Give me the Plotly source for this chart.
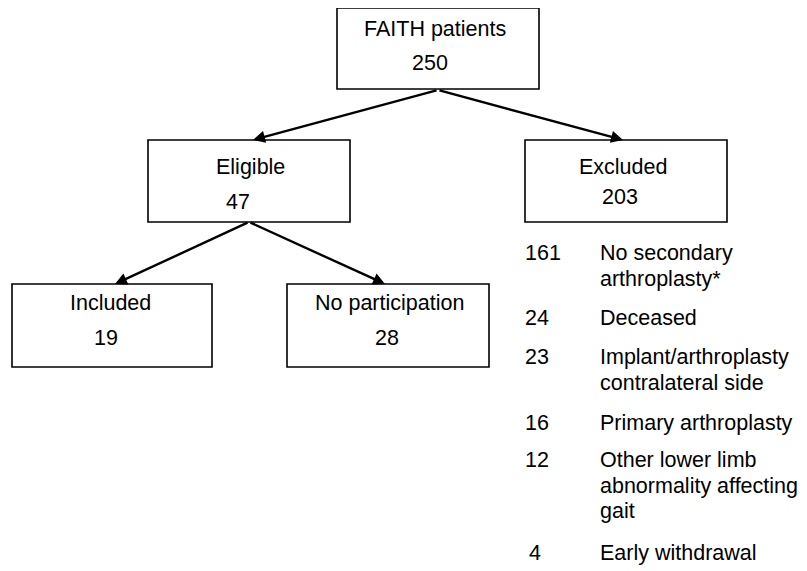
import plotly.graph_objects as go

# ---- data ----
box_labels = ["FAITH patients", "Eligible", "Excluded", "Included", "No participation"]
box_counts = [250, 47, 203, 19, 28]
edges = [(0, 1), (0, 2), (1, 3), (1, 4)]

excl_counts = [161, 24, 23, 16, 12, 4]
excl_reasons = [
    "No secondary|arthroplasty*",
    "Deceased",
    "Implant/arthroplasty|contralateral side",
    "Primary arthroplasty",
    "Other lower limb|abnormality affecting|gait",
    "Early withdrawal",
]

# ---- layout (pixel geometry, window coordinates) ----
W, H = 807, 571
PAD = 8  # page body margin
boxes = [  # x0, x1, y0, y1
    (337, 539, 8, 89),
    (148, 350, 140, 222),
    (525, 727, 140, 222),
    (12, 212, 284, 367),
    (287, 489, 284, 367),
]
label_pos = [(435, 29), (250, 167), (623, 167), (110, 303), (389, 303)]
count_pos = [(430, 63), (238, 202), (620, 197), (106, 338), (387, 338)]
arrow_start = {0: (438, 90), 1: (249, 222)}
arrow_end = {1: (253, 140), 2: (623, 140), 3: (115, 284), 4: (385, 284)}
excl_y0 = [253, 318, 357, 423, 460, 553]
line_gap = 25.5
FONT = dict(family="Liberation Sans, Arial, sans-serif", size=21.5, color="#000000")

fig = go.Figure()
fig.add_trace(go.Scatter(x=[PAD, W], y=[PAD, H], mode="markers",
                         marker=dict(opacity=0), hoverinfo="skip", showlegend=False))

shapes = []
annotations = []
for (x0, x1, y0, y1) in boxes:
    shapes.append(dict(type="rect", xref="x", yref="y", x0=x0, x1=x1, y0=y0, y1=y1,
                       line=dict(color="#000000", width=1.6), fillcolor="rgba(0,0,0,0)"))

for i, (lab, cnt) in enumerate(zip(box_labels, box_counts)):
    annotations.append(dict(x=label_pos[i][0], y=label_pos[i][1], xref="x", yref="y",
                            text=lab, showarrow=False, font=FONT,
                            xanchor="center", yanchor="middle"))
    annotations.append(dict(x=count_pos[i][0], y=count_pos[i][1], xref="x", yref="y",
                            text=str(cnt), showarrow=False, font=FONT,
                            xanchor="center", yanchor="middle"))

for (a, b) in edges:
    sx, sy = arrow_start[a]
    ex, ey = arrow_end[b]
    annotations.append(dict(x=ex, y=ey, ax=sx, ay=sy, xref="x", yref="y",
                            axref="x", ayref="y", text="", showarrow=True,
                            arrowhead=2, arrowsize=1.0, arrowwidth=2.4,
                            arrowcolor="#000000"))

for cnt, reason, y0 in zip(excl_counts, excl_reasons, excl_y0):
    nx = 523 + (4 if cnt < 10 else 0)
    annotations.append(dict(x=nx, y=y0, xref="x", yref="y", text=str(cnt),
                            showarrow=False, font=FONT, xanchor="left", yanchor="middle"))
    for k, line in enumerate(reason.split("|")):
        annotations.append(dict(x=598, y=y0 + k * line_gap, xref="x", yref="y",
                                text=line, showarrow=False, font=FONT,
                                xanchor="left", yanchor="middle"))

fig.update_layout(
    width=W - PAD, height=H - PAD, margin=dict(l=0, r=0, t=0, b=0),
    paper_bgcolor="white", plot_bgcolor="white",
    xaxis=dict(range=[PAD, W], visible=False, fixedrange=True),
    yaxis=dict(range=[H, PAD], visible=False, fixedrange=True),
    shapes=shapes, annotations=annotations, showlegend=False,
)
fig.write_html("out.html")
